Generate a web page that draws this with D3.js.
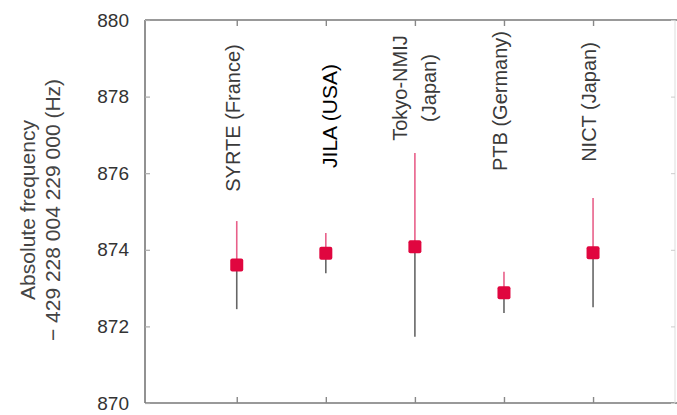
<!DOCTYPE html>
<html>
<head>
<meta charset="utf-8">
<script src="https://cdn.jsdelivr.net/npm/d3@7"></script>
<style>
  html, body { margin: 0; padding: 0; background: #fff; }
  svg { display: block; }
  text { font-family: "Liberation Sans", Arial, sans-serif; }
</style>
</head>
<body>
<svg id="chart" width="677" height="415"></svg>
<script>
// ---- data ----
const labs = ["SYRTE (France)", "JILA (USA)", "Tokyo-NMIJ|(Japan)", "PTB (Germany)", "NICT (Japan)"];
const freq = [873.60, 873.91, 874.08, 872.88, 873.92];
const errHi = [874.75, 874.44, 876.53, 873.43, 875.35];
const errLo = [872.45, 873.39, 871.73, 872.35, 872.50];
const yTicks = [870, 872, 874, 876, 878, 880];
const yTitle = ["Absolute frequency", "\u2212 429 228 004 229 000 (Hz)"];

// ---- layout ----
const L = 145, R = 675, T = 20, B = 403;
const svg = d3.select("#chart");
const x = d3.scaleLinear().domain([-0.03, 5.92]).range([L, R]);
const y = d3.scaleLinear().domain([870, 880]).range([B, T]);
const idx = d3.range(labs.length).map(i => i + 1);

// frame
const frame = svg.append("g");
frame.append("line").attr("x1", L).attr("x2", L).attr("y1", T).attr("y2", B).attr("stroke", "#777").attr("stroke-width", 1.6);
frame.append("line").attr("x1", L).attr("x2", R + 2).attr("y1", B).attr("y2", B).attr("stroke", "#777").attr("stroke-width", 1.6);
frame.append("line").attr("x1", L).attr("x2", 677).attr("y1", T).attr("y2", T).attr("stroke", "#777").attr("stroke-width", 1.6);
frame.append("line").attr("x1", R).attr("x2", R).attr("y1", T).attr("y2", B).attr("stroke", "#ddd").attr("stroke-width", 1);

// left axis
const yAxis = d3.axisLeft(y).tickValues(yTicks).tickSize(-5).tickPadding(16).tickFormat(d3.format("d"));
const gy = svg.append("g").attr("transform", `translate(${L},0)`).call(yAxis);
gy.select(".domain").remove();
gy.selectAll(".tick line").attr("stroke", "#aaa").attr("stroke-width", 1.2);
gy.selectAll(".tick text").attr("fill", "#333").style("font-size", "19px").style("font-family", "'Liberation Sans', Arial, sans-serif");

// right axis ticks (faint)
const gr = svg.append("g").attr("transform", `translate(${R},0)`).call(d3.axisRight(y).tickValues(yTicks).tickSize(-4).tickFormat(""));
gr.select(".domain").remove();
gr.selectAll(".tick line").attr("stroke", "#ccc");

// bottom & top ticks
const gb = svg.append("g").attr("transform", `translate(0,${B})`).call(d3.axisBottom(x).tickValues(idx).tickSize(-6).tickFormat(""));
gb.select(".domain").remove();
gb.selectAll(".tick line").attr("stroke", "#888").attr("stroke-width", 1.4);
const gt = svg.append("g").attr("transform", `translate(0,${T})`).call(d3.axisTop(x).tickValues(idx).tickSize(-6).tickFormat(""));
gt.select(".domain").remove();
gt.selectAll(".tick line").attr("stroke", "#888").attr("stroke-width", 1.4);

// y title
const yt = svg.append("g").attr("transform", "translate(0,210)");
yt.selectAll("text").data(yTitle).join("text")
  .attr("transform", (d, i) => `translate(${i === 0 ? 27 : 52},0) rotate(-90)`)
  .attr("text-anchor", "middle").attr("dominant-baseline", "central")
  .attr("fill", "#444").style("font-size", "21px")
  .text(d => d);

// labels
const labelCY = [118, 116, 88, 101, 102];
labs.forEach((s, i) => {
  const parts = s.split("|");
  const cx = x(i + 1);
  const g = svg.append("g");
  parts.forEach((p, j) => {
    const off = parts.length === 1 ? (i === 1 ? 4 : -4) : (j === 0 ? -15 : 14);
    g.append("text")
      .attr("transform", `translate(${cx + off},${labelCY[i]}) rotate(-90)`)
      .attr("text-anchor", "middle").attr("dominant-baseline", "central")
      .attr("fill", i === 1 ? "#000" : "#3a3a3a")
      .style("font-size", i === 1 ? "21px" : "20px")
      .text(p);
  });
});

// error bars
const eb = svg.append("g");
idx.forEach((v, i) => {
  eb.append("line").attr("x1", x(v)).attr("x2", x(v)).attr("y1", y(errHi[i])).attr("y2", y(freq[i]))
    .attr("stroke", "#e8608a").attr("stroke-width", 1.6);
  eb.append("line").attr("x1", x(v)).attr("x2", x(v)).attr("y1", y(freq[i])).attr("y2", y(errLo[i]))
    .attr("stroke", "#666").attr("stroke-width", 1.6);
});

// markers
const ms = 13;
svg.append("g").selectAll("rect").data(freq).join("rect")
  .attr("x", (d, i) => x(i + 1) - ms / 2).attr("y", d => y(d) - ms / 2)
  .attr("width", ms).attr("height", ms).attr("rx", 2)
  .attr("fill", "#e0063f");
</script>
</body>
</html>
